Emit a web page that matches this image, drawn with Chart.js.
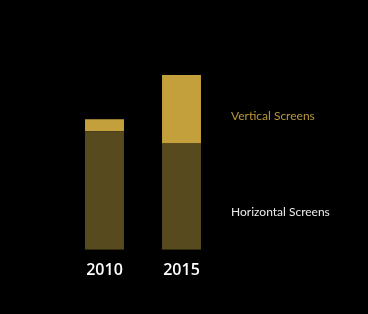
<!DOCTYPE html>
<html><head><meta charset="utf-8">
<script src="https://cdn.jsdelivr.net/npm/chart.js@4/dist/chart.umd.min.js"></script>
<style>html,body{margin:0;padding:0;background:#000;}#wrap{width:368px;height:314px;position:relative;}</style>
</head><body><div id="wrap"><canvas id="c" width="368" height="314"></canvas></div>
<script>
const years = ["2010", "2015"];
const horizontalScreens = [118, 106];
const verticalScreens = [12, 68];
const seriesNames = ["Horizontal Screens", "Vertical Screens"];

const sideLabels = {
  id: 'sideLabels',
  afterDatasetsDraw(chart) {
    const ctx = chart.ctx, a = chart.chartArea;
    ctx.save();
    ctx.font = '400 12px Lato';
    ctx.textAlign = 'left';
    ctx.textBaseline = 'middle';
    ctx.fillStyle = '#b9973d';
    ctx.fillText(seriesNames[1], a.right + 11, 116);
    ctx.fillStyle = '#ececec';
    ctx.fillText(seriesNames[0], a.right + 11, 212);
    ctx.restore();
  }
};

new Chart(document.getElementById('c'), {
  type: 'bar',
  data: {
    labels: years,
    datasets: [
      { label: seriesNames[0], data: horizontalScreens, backgroundColor: '#564a1e', borderWidth: 0 },
      { label: seriesNames[1], data: verticalScreens, backgroundColor: '#c4a03c', borderWidth: 0 }
    ]
  },
  options: {
    responsive: false,
    animation: false,
    layout: { padding: { left: 66, right: 148, top: 49, bottom: 23 } },
    plugins: { legend: { display: false }, tooltip: { enabled: false } },
    datasets: { bar: { categoryPercentage: 0.506, barPercentage: 1 } },
    scales: {
      x: {
        stacked: true,
        grid: { display: false, drawTicks: false },
        border: { display: false },
        ticks: { color: '#ffffff', padding: 11, font: { family: 'Open Sans', size: 16, weight: '600' } }
      },
      y: { stacked: true, display: false, min: 0, max: 200 }
    }
  },
  plugins: [sideLabels]
});
</script></body></html>
